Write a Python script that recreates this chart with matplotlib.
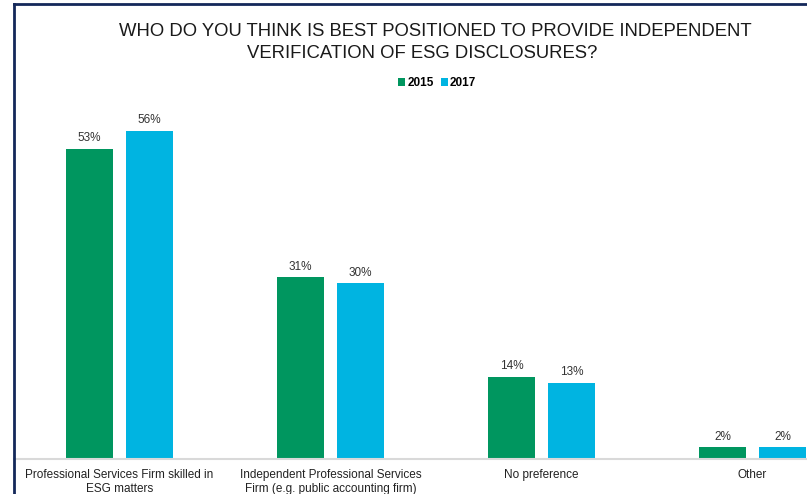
import matplotlib.pyplot as plt
from matplotlib.lines import Line2D
import numpy as np

plt.rcParams['font.family'] = ['Liberation Sans', 'DejaVu Sans']

categories = ['Professional Services Firm skilled in\nESG matters',
              'Independent Professional Services\nFirm (e.g. public accounting firm)',
              'No preference',
              'Other']
years = ['2015', '2017']
vals_2015 = [53, 31, 14, 2]
vals_2017 = [56, 30, 13, 2]
colors = ['#00965F', '#00B4E1']

W, H = 807, 494
fig = plt.figure(figsize=(W / 100, H / 100), dpi=100)

# axes in pixel terms: left 14, right 858 (runs off the image), baseline 459
ax_left, ax_right, ax_bottom = 14, 858, 459
ylim_top = 60
px_per_unit = 5.857
ax_h = ylim_top * px_per_unit
ax = fig.add_axes([ax_left / W, (H - ax_bottom) / H, (ax_right - ax_left) / W, ax_h / H])

x = np.arange(len(categories))
bw = 47 / 211
off = 30 / 211
for vals, offset, c, lab in [(vals_2015, -off, colors[0], years[0]), (vals_2017, off, colors[1], years[1])]:
    bars = ax.bar(x + offset, vals, width=bw, color=c, label=lab)
    for b, v in zip(bars, vals):
        ax.text(b.get_x() + b.get_width() / 2, v + 0.8, f'{v}%', ha='center', va='bottom',
                fontsize=8.5, color='#333333')

ax.set_xlim(-0.5, 3.5)
ax.set_ylim(0, ylim_top)
ax.set_yticks([])
ax.set_xticks(x)
ax.set_xticklabels(categories, fontsize=8.5, color='#222222', linespacing=1.25)
ax.tick_params(axis='x', length=0, pad=7)
for s in ['top', 'right', 'left']:
    ax.spines[s].set_visible(False)
ax.spines['bottom'].set_color('#D9D9D9')
ax.spines['bottom'].set_linewidth(1.5)

fig.text(435 / W, 1 - 31 / H, 'WHO DO YOU THINK IS BEST POSITIONED TO PROVIDE INDEPENDENT',
         ha='center', va='center', fontsize=13.3, color='#1a1a1a')
fig.text(422 / W, 1 - 54 / H, 'VERIFICATION OF ESG DISCLOSURES?',
         ha='center', va='center', fontsize=13.3, color='#1a1a1a')

fig.legend(loc='center', bbox_to_anchor=(437 / W, 1 - 83 / H), ncol=2, frameon=False,
           handlelength=0.6, handleheight=0.6, handletextpad=0.2,
           columnspacing=0.6, prop={'weight': 'bold', 'size': 8.5})

# navy frame on the left and top
fig.add_artist(Line2D([14 / W, 14 / W], [0, 1 - 4 / H], color='#14285A', linewidth=2))
fig.add_artist(Line2D([14 / W, 1], [1 - 4 / H, 1 - 4 / H], color='#14285A', linewidth=2))

fig.savefig('out.png', dpi=100)
